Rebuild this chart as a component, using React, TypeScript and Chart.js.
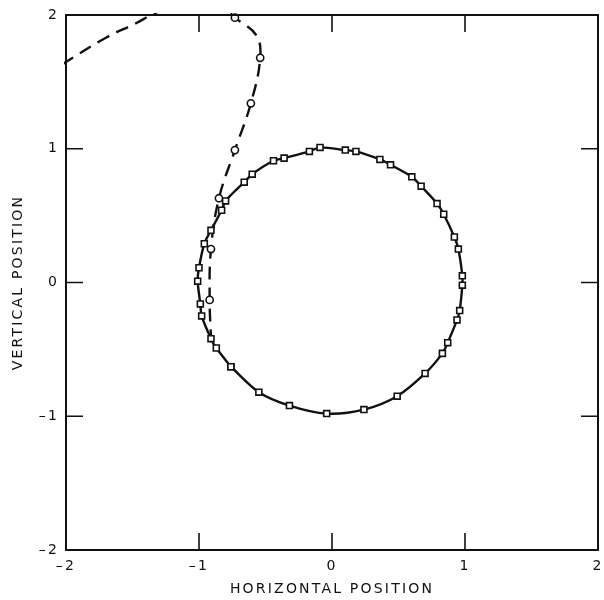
import React, { useEffect, useRef } from "react";
import { Chart, registerables } from "chart.js";

Chart.register(...registerables);

// Solid trajectory (square markers), closed loop
const loopX = [-0.76, -0.87, -0.91, -0.98, -0.99, -1.01, -1.00, -0.96, -0.91, -0.83, -0.80, -0.66, -0.60, -0.44, -0.36, -0.17, -0.09, 0.10, 0.18, 0.36, 0.44, 0.60, 0.67, 0.79, 0.84, 0.92, 0.95, 0.98, 0.98, 0.96, 0.94, 0.87, 0.83, 0.70, 0.49, 0.24, -0.04, -0.32, -0.55, -0.76];
const loopY = [-0.63, -0.49, -0.42, -0.25, -0.16, 0.01, 0.11, 0.29, 0.39, 0.54, 0.61, 0.75, 0.81, 0.91, 0.93, 0.98, 1.01, 0.99, 0.98, 0.92, 0.88, 0.79, 0.72, 0.59, 0.51, 0.34, 0.25, 0.05, -0.02, -0.21, -0.28, -0.45, -0.53, -0.68, -0.85, -0.95, -0.98, -0.92, -0.82, -0.63];

// Dashed trajectory (circle markers); marker flags: 1 = circle drawn
const dashX = [-2.03, -1.70, -1.47, -1.34, -1.05, -0.83, -0.73, -0.57, -0.54, -0.61, -0.73, -0.85, -0.91, -0.92, -0.91];
const dashY = [1.63, 1.83, 1.94, 2.01, 2.12, 2.07, 1.98, 1.85, 1.68, 1.34, 0.99, 0.63, 0.25, -0.13, -0.41];
const dashMarker = [0, 0, 0, 0, 0, 0, 1, 0, 1, 1, 1, 1, 1, 1, 0];

const tickValues = [-2, -1, 0, 1, 2];
const innerTicks = [-1, 0, 1];
const xTitle = "HORIZONTAL POSITION";
const yTitle = "VERTICAL POSITION";

const INK = "#111";

const framePlugin = {
  id: "frameTicks",
  beforeDraw(chart: any) {
    (chart.ctx as any).letterSpacing = "2.2px";
  },
  afterDraw(chart: any) {
    const { ctx, chartArea: a, scales } = chart;
    ctx.save();
    ctx.strokeStyle = INK;
    ctx.lineWidth = 2;
    ctx.strokeRect(a.left, a.top, a.right - a.left, a.bottom - a.top);
    ctx.lineWidth = 1.6;
    const L = 17;
    ctx.beginPath();
    innerTicks.forEach((v) => {
      const px = scales.x.getPixelForValue(v);
      ctx.moveTo(px, a.bottom);
      ctx.lineTo(px, a.bottom - L);
      ctx.moveTo(px, a.top);
      ctx.lineTo(px, a.top + L);
      const py = scales.y.getPixelForValue(v);
      ctx.moveTo(a.left, py);
      ctx.lineTo(a.left + L, py);
      ctx.moveTo(a.right, py);
      ctx.lineTo(a.right - L, py);
    });
    ctx.stroke();
    ctx.restore();
    (ctx as any).letterSpacing = "0px";
  },
};

const fmt = (v: any) => {
  const n = Number(v);
  if (!tickValues.includes(n)) return "";
  return n < 0 ? "\u2013" + Math.abs(n) : String(n);
};

export default function App() {
  const ref = useRef<HTMLCanvasElement | null>(null);
  useEffect(() => {
    if (!ref.current) return;
    const font = { family: "'DejaVu Sans', sans-serif", size: 14 };
    const chart = new Chart(ref.current, {
      type: "scatter",
      data: {
        datasets: [
          {
            data: loopX.map((x, i) => ({ x, y: loopY[i] })),
            showLine: true,
            borderColor: INK,
            borderWidth: 2.4,
            tension: 0.3,
            pointStyle: "rect",
            pointRadius: 4.2,
            pointBorderWidth: 1.6,
            pointBorderColor: INK,
            pointBackgroundColor: "#fff",
            clip: 2,
          } as any,
          {
            data: dashX.map((x, i) => ({ x, y: dashY[i] })),
            showLine: true,
            borderColor: INK,
            borderWidth: 2.4,
            borderDash: [13, 8],
            tension: 0.4,
            pointStyle: "circle",
            pointRadius: dashMarker.map((m) => (m ? 3.6 : 0)),
            pointBorderWidth: 1.6,
            pointBorderColor: INK,
            pointBackgroundColor: "#fff",
            clip: 2,
          } as any,
        ],
      },
      options: {
        animation: false,
        responsive: false,
        layout: { padding: { top: 15, right: 6, left: 0, bottom: 0 } },
        plugins: { legend: { display: false }, tooltip: { enabled: false } },
        scales: {
          x: {
            type: "linear",
            min: -2,
            max: 2,
            grid: { display: false, drawTicks: false },
            border: { display: false },
            ticks: { stepSize: 1, padding: 8, color: INK, font, callback: fmt, maxRotation: 0, autoSkip: false },
            title: { display: true, text: xTitle, color: INK, font, padding: { top: 0, bottom: 2 } },
            afterFit: (s: any) => {
              s.height = 50;
              s.paddingLeft = 0;
              s.paddingRight = 0;
            },
          },
          y: {
            type: "linear",
            min: -2,
            max: 2,
            grid: { display: false, drawTicks: false },
            border: { display: false },
            ticks: { stepSize: 1, padding: 7, color: INK, font, callback: fmt, autoSkip: false },
            title: { display: true, text: yTitle, color: INK, font, padding: { top: 10, bottom: 0 } },
            afterFit: (s: any) => {
              s.width = 66;
              s.paddingTop = 0;
              s.paddingBottom = 0;
            },
          },
        },
      } as any,
      plugins: [framePlugin],
    });
    return () => chart.destroy();
  }, []);
  return (
    <div style={{ position: "absolute", left: 0, top: 0, width: 604, height: 600, background: "#fff" }}>
      <canvas ref={ref} width={604} height={600} style={{ display: "block" }} />
    </div>
  );
}
